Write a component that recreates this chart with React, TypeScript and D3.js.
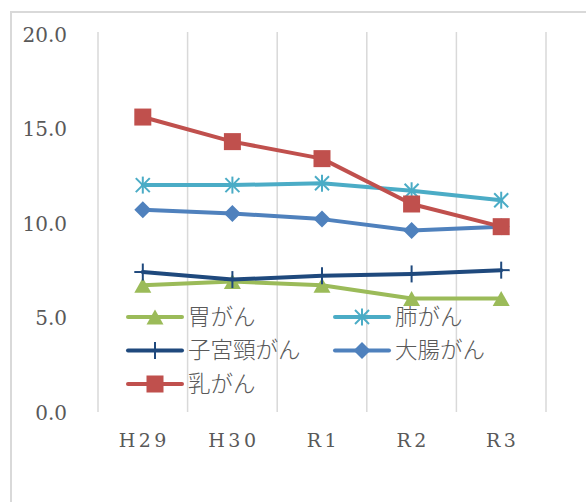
import React from "react";
import * as d3 from "d3";

// Fiscal years (Japanese era notation)
const years = ["H29", "H30", "R1", "R2", "R3"];

// Screening rates (%) per cancer type
const stomach = [6.6, 6.8, 6.6, 5.9, 5.9];
const lung = [11.9, 11.9, 12.0, 11.6, 11.1];
const cervical = [7.3, 6.9, 7.1, 7.2, 7.4];
const colorectal = [10.6, 10.4, 10.1, 9.5, 9.7];
const breast = [15.5, 14.2, 13.3, 10.9, 9.7];

const seriesNames = ["胃がん", "肺がん", "子宮頸がん", "大腸がん", "乳がん"];
const yTicks = [0, 5, 10, 15, 20];

type MarkerKind = "triangle" | "asterisk" | "plus" | "diamond" | "square";

const series: { name: string; values: number[]; color: string; marker: MarkerKind }[] = [
  { name: seriesNames[0], values: stomach, color: "#9BBB59", marker: "triangle" },
  { name: seriesNames[1], values: lung, color: "#4BACC6", marker: "asterisk" },
  { name: seriesNames[2], values: cervical, color: "#1F497D", marker: "plus" },
  { name: seriesNames[3], values: colorectal, color: "#4F81BD", marker: "diamond" },
  { name: seriesNames[4], values: breast, color: "#C0504D", marker: "square" },
];

const W = 586;
const H = 502;
const plot = { left: 98, right: 546, top: 32, bottom: 410 };
const textColor = "#595959";
const gridColor = "#D9D9D9";

function Marker({ kind, x, y, color }: { kind: MarkerKind; x: number; y: number; color: string }) {
  const s = 8.5;
  switch (kind) {
    case "triangle":
      return <path d={`M${x},${y - s + 1}L${x + s},${y + s - 1}L${x - s},${y + s - 1}Z`} fill={color} />;
    case "square":
      return <rect x={x - s} y={y - s} width={2 * s} height={2 * s} fill={color} />;
    case "diamond":
      return <path d={`M${x},${y - s}L${x + s},${y}L${x},${y + s}L${x - s},${y}Z`} fill={color} />;
    case "plus":
      return (
        <g stroke={color} strokeWidth={2}>
          <line x1={x} y1={y - s} x2={x} y2={y + s} />
          <line x1={x - s} y1={y} x2={x + s} y2={y} />
        </g>
      );
    case "asterisk": {
      const a = s - 1.5;
      return (
        <g stroke={color} strokeWidth={2}>
          <line x1={x} y1={y - s} x2={x} y2={y + s} />
          <line x1={x - a} y1={y - a} x2={x + a} y2={y + a} />
          <line x1={x - a} y1={y + a} x2={x + a} y2={y - a} />
        </g>
      );
    }
  }
}

export default function App() {
  const x = d3.scaleBand<string>().domain(years).range([plot.left, plot.right]).paddingInner(0).paddingOuter(0);
  const cx = (c: string) => (x(c) as number) + x.bandwidth() / 2;
  const y = d3.scaleLinear().domain([0, 20]).range([plot.bottom, plot.top]);
  const fmt = d3.format(".1f");

  const line = d3
    .line<number>()
    .x((_, i) => cx(years[i]))
    .y((v) => y(v));

  const gridXs = [...years.map((c) => x(c) as number), plot.right];

  // Legend layout: two columns, filled row by row
  const legendCols = [128, 335];
  const legendRows = [317, 350.5, 384];

  return (
    <svg
      width={W}
      height={H}
      style={{ position: "absolute", left: 0, top: 0, background: "#fff" }}
      fontFamily="'DejaVu Serif', serif"
    >
      <rect x={11} y={12} width={W + 20} height={H + 20} fill="#fff" stroke={gridColor} strokeWidth={2} />

      {gridXs.map((gx, i) => (
        <line key={i} x1={gx} x2={gx} y1={plot.top} y2={plot.bottom + 2} stroke={gridColor} strokeWidth={1.5} />
      ))}

      {yTicks.map((t) => (
        <text key={t} x={67} y={y(t) + 9.5} textAnchor="end" fontSize={20} fill={textColor}>
          {fmt(t)}
        </text>
      ))}

      {years.map((c) => (
        <text key={c} x={cx(c) + 1.5} y={447} textAnchor="middle" fontSize={19} letterSpacing={3.5} fill={textColor}>
          {c}
        </text>
      ))}

      {series.map((s) => (
        <g key={s.name}>
          <path
            d={line(s.values) ?? ""}
            fill="none"
            stroke={s.color}
            strokeWidth={4}
            strokeLinejoin="round"
            strokeLinecap="round"
          />
          {s.values.map((v, i) => (
            <Marker key={i} kind={s.marker} x={cx(years[i])} y={y(v)} color={s.color} />
          ))}
        </g>
      ))}

      {series.map((s, i) => {
        const lx = legendCols[i % 2];
        const ly = legendRows[Math.floor(i / 2)];
        return (
          <g key={"lg" + s.name}>
            <line x1={lx} x2={lx + 54} y1={ly} y2={ly} stroke={s.color} strokeWidth={4} strokeLinecap="round" />
            <Marker kind={s.marker} x={lx + 27} y={ly} color={s.color} />
            <text
              x={lx + 60}
              y={ly + 7.5}
              fontSize={22.5}
              fill={textColor}
              fontFamily="'Noto Sans CJK JP', sans-serif"
              fontWeight={300}
            >
              {s.name}
            </text>
          </g>
        );
      })}
    </svg>
  );
}
